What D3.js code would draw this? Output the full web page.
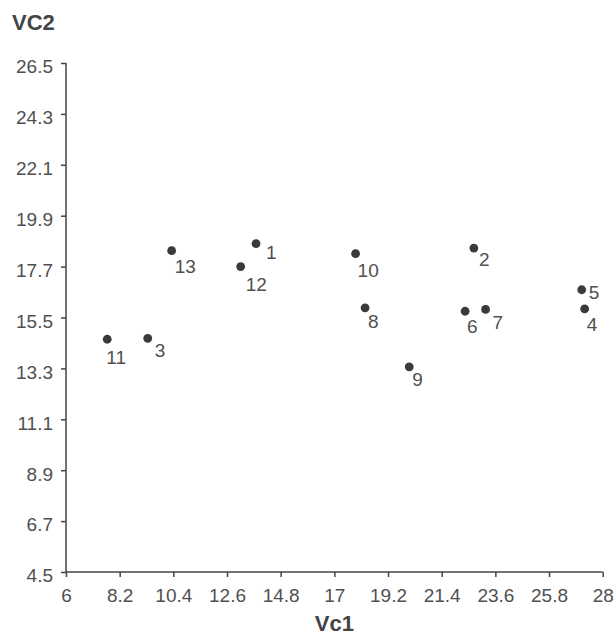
<!DOCTYPE html>
<html>
<head>
<meta charset="utf-8">
<script src="https://cdn.jsdelivr.net/npm/d3@7"></script>
<style>
  html, body { margin: 0; padding: 0; background: #fff; }
  svg { display: block; }
  text { font-family: "Liberation Sans", Arial, sans-serif; }
</style>
</head>
<body>
<svg id="chart" width="616" height="636"></svg>
<script>
// Data
const ids = ["1","2","3","4","5","6","7","8","9","10","11","12","13"];
const vc1 = [13.79, 22.72, 9.35, 27.26, 27.14, 22.36, 23.20, 18.26, 20.07, 17.87, 7.69, 13.16, 10.33];
const vc2 = [18.69, 18.50, 14.60, 15.87, 16.70, 15.77, 15.85, 15.92, 13.37, 18.26, 14.56, 17.70, 18.39];
const xTicks = [6, 8.2, 10.4, 12.6, 14.8, 17, 19.2, 21.4, 23.6, 25.8, 28];
const yTicks = [4.5, 6.7, 8.9, 11.1, 13.3, 15.5, 17.7, 19.9, 22.1, 24.3, 26.5];

// Label offsets (px) relative to each point, in the same order as ids
const labelDx = [10, 5, 7, 2, 7, 2, 7, 3, 3, 2, -1, 5, 3];
const labelDy = [15, 18, 19, 22, 9, 22, 20, 20, 19, 23, 25, 24, 22];

const svg = d3.select("#chart");
const mLeft = 66, mTop = 63, mRight = 602.7, mBottom = 572;

const x = d3.scaleLinear().domain([6, 28]).range([mLeft, mRight]);
const y = d3.scaleLinear().domain([4.5, 26.5]).range([mBottom, mTop]);

const axisColor = "#444";
const textColor = "#505050";

// X axis
const gx = svg.append("g")
  .attr("transform", `translate(0,${mBottom})`)
  .call(d3.axisBottom(x).tickValues(xTicks).tickFormat(d => String(d)).tickSizeOuter(0).tickSize(5).tickPadding(12));
gx.select(".domain").attr("stroke", axisColor).attr("stroke-width", 1.5)
  .attr("d", `M${mLeft},0H${mRight}`);
gx.selectAll(".tick line").attr("stroke", axisColor).attr("stroke-width", 1.5);
gx.selectAll(".tick text").attr("fill", textColor).style("font-size", "19px")
  .style("font-family", "'Liberation Sans', Arial, sans-serif");

// Y axis
const gy = svg.append("g")
  .attr("transform", `translate(${mLeft},0)`)
  .call(d3.axisLeft(y).tickValues(yTicks).tickFormat(d => d.toFixed(1)).tickSizeOuter(0).tickSize(5).tickPadding(8));
gy.select(".domain").attr("stroke", axisColor).attr("stroke-width", 1.5)
  .attr("d", `M0,${mTop}V${mBottom}`);
gy.selectAll(".tick line").attr("stroke", axisColor).attr("stroke-width", 1.5);
gy.selectAll(".tick text").attr("fill", textColor).style("font-size", "19px")
  .attr("dy", "0.52em")
  .style("font-family", "'Liberation Sans', Arial, sans-serif");

// Axis titles
svg.append("text")
  .attr("x", 12).attr("y", 30)
  .attr("fill", "#444")
  .style("font-size", "22px").style("font-weight", "bold")
  .text("VC2");
svg.append("text")
  .attr("x", (mLeft + mRight) / 2).attr("y", 631)
  .attr("text-anchor", "middle")
  .attr("fill", "#444")
  .style("font-size", "22px").style("font-weight", "bold")
  .text("Vc1");

// Points
const data = ids.map((id, i) => ({ id, x: vc1[i], y: vc2[i], dx: labelDx[i], dy: labelDy[i] }));

svg.append("g").selectAll("circle")
  .data(data).join("circle")
  .attr("cx", d => x(d.x))
  .attr("cy", d => y(d.y))
  .attr("r", 4.4)
  .attr("fill", "#3a3a3a");

svg.append("g").selectAll("text")
  .data(data).join("text")
  .attr("x", d => x(d.x) + d.dx)
  .attr("y", d => y(d.y) + d.dy)
  .attr("fill", textColor)
  .style("font-size", "19px")
  .text(d => d.id);
</script>
</body>
</html>
